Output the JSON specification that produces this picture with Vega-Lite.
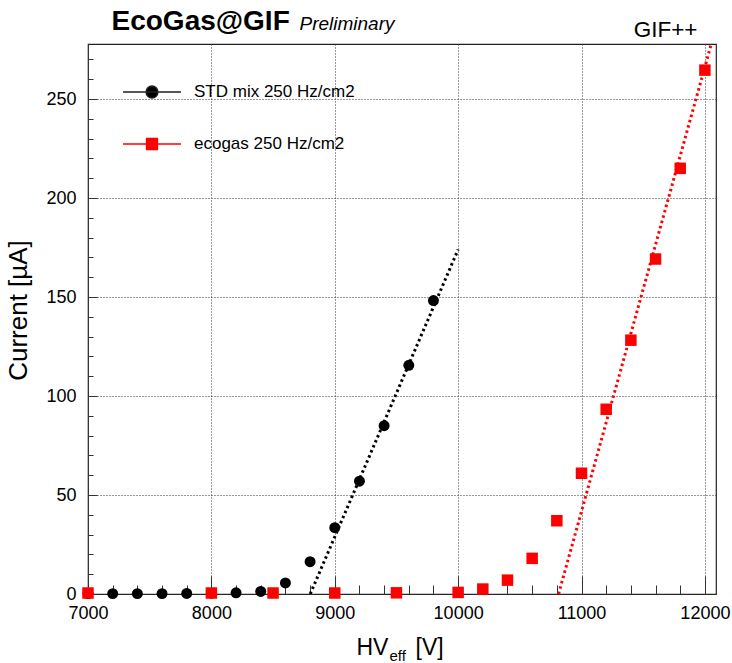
{
  "$schema": "https://vega.github.io/schema/vega-lite/v6.json",
  "width": 628,
  "height": 550,
  "autosize": "none",
  "padding": {"left": 88, "top": 44, "right": 16, "bottom": 69},
  "background": "white",
  "datasets": {
    "std": [
      {"hv": 7000, "current": 0.2, "series": "STD mix 250 Hz/cm2"},
      {"hv": 7200, "current": 0.2, "series": "STD mix 250 Hz/cm2"},
      {"hv": 7400, "current": 0.2, "series": "STD mix 250 Hz/cm2"},
      {"hv": 7600, "current": 0.2, "series": "STD mix 250 Hz/cm2"},
      {"hv": 7800, "current": 0.3, "series": "STD mix 250 Hz/cm2"},
      {"hv": 8000, "current": 0.4, "series": "STD mix 250 Hz/cm2"},
      {"hv": 8200, "current": 0.6, "series": "STD mix 250 Hz/cm2"},
      {"hv": 8400, "current": 1.3, "series": "STD mix 250 Hz/cm2"},
      {"hv": 8600, "current": 5.6, "series": "STD mix 250 Hz/cm2"},
      {"hv": 8800, "current": 16.3, "series": "STD mix 250 Hz/cm2"},
      {"hv": 9000, "current": 33.5, "series": "STD mix 250 Hz/cm2"},
      {"hv": 9200, "current": 57.0, "series": "STD mix 250 Hz/cm2"},
      {"hv": 9400, "current": 85.0, "series": "STD mix 250 Hz/cm2"},
      {"hv": 9600, "current": 115.5, "series": "STD mix 250 Hz/cm2"},
      {"hv": 9800, "current": 148.2, "series": "STD mix 250 Hz/cm2"}
    ],
    "eco": [
      {"hv": 7000, "current": 0.5, "series": "ecogas 250 Hz/cm2"},
      {"hv": 8000, "current": 0.5, "series": "ecogas 250 Hz/cm2"},
      {"hv": 8500, "current": 0.5, "series": "ecogas 250 Hz/cm2"},
      {"hv": 9000, "current": 0.5, "series": "ecogas 250 Hz/cm2"},
      {"hv": 9500, "current": 0.6, "series": "ecogas 250 Hz/cm2"},
      {"hv": 10000, "current": 0.8, "series": "ecogas 250 Hz/cm2"},
      {"hv": 10200, "current": 2.5, "series": "ecogas 250 Hz/cm2"},
      {"hv": 10400, "current": 7.0, "series": "ecogas 250 Hz/cm2"},
      {"hv": 10600, "current": 18.0, "series": "ecogas 250 Hz/cm2"},
      {"hv": 10800, "current": 37.0, "series": "ecogas 250 Hz/cm2"},
      {"hv": 11000, "current": 61.0, "series": "ecogas 250 Hz/cm2"},
      {"hv": 11200, "current": 93.3, "series": "ecogas 250 Hz/cm2"},
      {"hv": 11400, "current": 128.2, "series": "ecogas 250 Hz/cm2"},
      {"hv": 11600, "current": 169.2, "series": "ecogas 250 Hz/cm2"},
      {"hv": 11800, "current": 215.0, "series": "ecogas 250 Hz/cm2"},
      {"hv": 12000, "current": 264.6, "series": "ecogas 250 Hz/cm2"}
    ],
    "fitStd": [
      {"hv": 8801, "current": 0},
      {"hv": 10000, "current": 174}
    ],
    "fitEco": [
      {"hv": 10814, "current": 0},
      {"hv": 12051, "current": 277.7}
    ]
  },
  "config": {
    "view": {"stroke": "#222", "strokeWidth": 1.2},
    "font": "Liberation Sans",
    "axis": {
      "labelFont": "Liberation Sans",
      "titleFont": "Liberation Sans",
      "labelColor": "#000",
      "titleColor": "#000",
      "titleFontWeight": "normal",
      "tickColor": "#333",
      "tickWidth": 1,
      "domain": false,
      "gridColor": "#333",
      "gridDash": [1, 2],
      "gridWidth": 1,
      "labelFontSize": 18
    },
    "legend": {
      "orient": "none",
      "legendX": 34,
      "legendY": 18,
      "title": null,
      "padding": 0,
      "symbolSize": 3364,
      "symbolOpacity": 1,
      "symbolStrokeWidth": 1.3,
      "labelFontSize": 17,
      "labelFont": "Liberation Sans",
      "labelColor": "#000",
      "labelOffset": 12,
      "labelLimit": 0,
      "rowPadding": 13
    }
  },
  "resolve": {"axis": {"x": "independent", "y": "independent"}},
  "layer": [
    {
      "data": {"name": "std"},
      "mark": {"type": "point", "shape": "circle", "filled": true, "size": 120, "opacity": 1, "strokeWidth": 0, "color": "#000000"},
      "encoding": {
        "x": {
          "field": "hv", "type": "quantitative",
          "scale": {"domain": [7000, 12090], "nice": false, "zero": false},
          "axis": {
            "orient": "bottom",
            "values": [7000, 8000, 9000, 10000, 11000, 12000],
            "format": "d",
            "grid": true,
            "tickSize": -18,
            "labelPadding": 28,
            "labelFlush": false,
            "title": "HV",
            "titleFontSize": 23,
            "titleAlign": "left",
            "titleBaseline": "alphabetic",
            "titleAngle": 0,
            "titleX": 268,
            "titleY": 60
          }
        },
        "y": {
          "field": "current", "type": "quantitative",
          "scale": {"domain": [0, 277.8], "nice": false, "zero": false},
          "axis": {
            "orient": "left",
            "values": [0, 50, 100, 150, 200, 250],
            "grid": true,
            "tickSize": -9,
            "labelPadding": 21,
            "labelFlush": false,
            "title": "Current [µA]",
            "titleFontSize": 26,
            "titleAlign": "center",
            "titleBaseline": "alphabetic",
            "titleAngle": -90,
            "titleX": -62,
            "titleY": 266
          }
        }
      }
    },
    {
      "data": {"name": "eco"},
      "mark": {"type": "point", "shape": "square", "filled": true, "size": 132, "opacity": 1, "strokeWidth": 0, "color": "#ff0000"},
      "encoding": {
        "x": {"field": "hv", "type": "quantitative", "axis": null},
        "y": {"field": "current", "type": "quantitative", "axis": null}
      }
    },
    {
      "data": {"name": "fitStd"},
      "mark": {"type": "line", "color": "#000000", "strokeWidth": 3, "strokeDash": [2.5, 3], "clip": true},
      "encoding": {
        "x": {"field": "hv", "type": "quantitative", "axis": null},
        "y": {"field": "current", "type": "quantitative", "axis": null}
      }
    },
    {
      "data": {"name": "fitEco"},
      "mark": {"type": "line", "color": "#ff0000", "strokeWidth": 3, "strokeDash": [2.5, 3], "clip": true},
      "encoding": {
        "x": {"field": "hv", "type": "quantitative", "axis": null},
        "y": {"field": "current", "type": "quantitative", "axis": null}
      }
    },
    {
      "data": {"name": "std"},
      "mark": {"type": "point", "filled": true, "opacity": 0, "size": 3364, "strokeWidth": 1.3},
      "encoding": {
        "x": {"field": "hv", "type": "quantitative", "axis": null},
        "y": {"field": "current", "type": "quantitative", "axis": null},
        "color": {
          "field": "series", "type": "nominal",
          "scale": {"domain": ["STD mix 250 Hz/cm2", "ecogas 250 Hz/cm2"], "range": ["#000000", "#ff0000"]},
          "legend": {"title": null}
        },
        "stroke": {
          "field": "series", "type": "nominal",
          "scale": {"domain": ["STD mix 250 Hz/cm2", "ecogas 250 Hz/cm2"], "range": ["#222222", "#ff0000"]},
          "legend": {"title": null}
        },
        "shape": {
          "field": "series", "type": "nominal",
          "scale": {"domain": ["STD mix 250 Hz/cm2", "ecogas 250 Hz/cm2"], "range": ["M-1,0H1M-0.207,0A0.207,0.207 0 1,1 0.207,0A0.207,0.207 0 1,1 -0.207,0Z", "M-1,0H1M-0.19,-0.19H0.19V0.19H-0.19Z"]},
          "legend": {"title": null}
        }
      }
    },
    {
      "data": {"name": "std"},
      "mark": {"type": "point", "opacity": 0},
      "encoding": {
        "x": {
          "field": "hv", "type": "quantitative",
          "axis": {
            "orient": "bottom",
            "values": [7200, 7400, 7600, 7800, 8200, 8400, 8600, 8800, 9200, 9400, 9600, 9800, 10200, 10400, 10600, 10800, 11200, 11400, 11600, 11800],
            "grid": false,
            "labels": false,
            "tickSize": -9,
            "title": "eff",
            "titleFontSize": 15,
            "titleAlign": "left",
            "titleBaseline": "alphabetic",
            "titleAngle": 0,
            "titleX": 301,
            "titleY": 66
          }
        },
        "y": {
          "field": "current", "type": "quantitative",
          "axis": {
            "orient": "left",
            "values": [10, 20, 30, 40, 60, 70, 80, 90, 110, 120, 130, 140, 160, 170, 180, 190, 210, 220, 230, 240, 260, 270],
            "grid": false,
            "labels": false,
            "tickSize": -5,
            "title": null
          }
        }
      }
    },
    {
      "data": {"name": "std"},
      "mark": {"type": "point", "opacity": 0},
      "encoding": {
        "x": {
          "field": "hv", "type": "quantitative",
          "axis": {
            "orient": "top",
            "grid": false, "labels": false, "ticks": false,
            "title": "EcoGas@GIF",
            "titleFontSize": 28,
            "titleFontWeight": "bold",
            "titleAlign": "left",
            "titleBaseline": "alphabetic",
            "titleAngle": 0,
            "titleX": 23,
            "titleY": -15
          }
        },
        "y": {
          "field": "current", "type": "quantitative",
          "axis": {
            "orient": "right",
            "grid": false, "labels": false, "ticks": false,
            "title": "GIF++",
            "titleFontSize": 22.5,
            "titleAlign": "right",
            "titleBaseline": "alphabetic",
            "titleAngle": 0,
            "titleX": -19,
            "titleY": -8
          }
        }
      }
    },
    {
      "data": {"name": "std"},
      "mark": {"type": "point", "opacity": 0},
      "encoding": {
        "x": {
          "field": "hv", "type": "quantitative",
          "axis": {
            "orient": "top",
            "grid": false, "labels": false, "ticks": false,
            "title": "Preliminary",
            "titleFontSize": 19,
            "titleFontStyle": "italic",
            "titleAlign": "left",
            "titleBaseline": "alphabetic",
            "titleAngle": 0,
            "titleX": 211,
            "titleY": -15
          }
        },
        "y": {
          "field": "current", "type": "quantitative",
          "axis": {
            "orient": "right",
            "grid": false, "labels": false, "ticks": false,
            "title": "[V]",
            "titleFontSize": 23,
            "titleAlign": "left",
            "titleBaseline": "alphabetic",
            "titleAngle": 0,
            "titleX": -301,
            "titleY": 610
          }
        }
      }
    }
  ]
}
